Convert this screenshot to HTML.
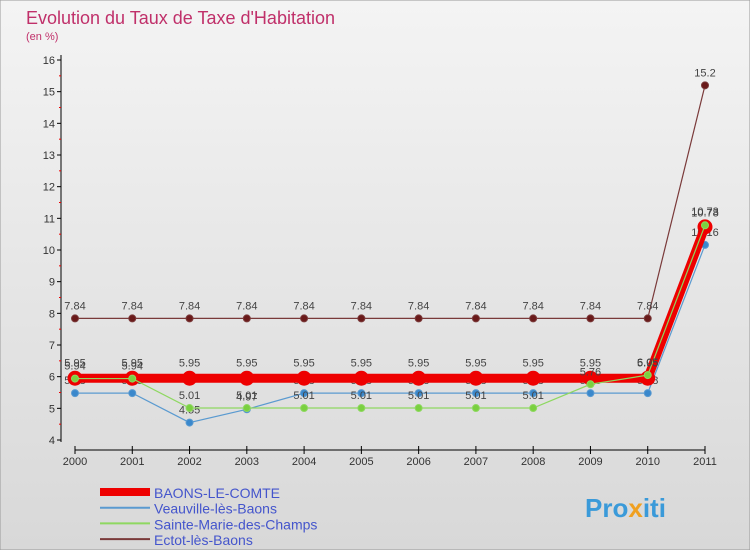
<!DOCTYPE html>
<html><head><meta charset="utf-8"><style>
body{margin:0;width:750px;height:550px;overflow:hidden;font-family:"Liberation Sans",sans-serif}
svg text{font-family:"Liberation Sans",sans-serif}
</style></head><body>
<svg width="750" height="550" xmlns="http://www.w3.org/2000/svg">
<defs><linearGradient id="bg" x1="0" y1="0" x2="0" y2="1"><stop offset="0" stop-color="#f4f4f4"/><stop offset="1" stop-color="#d8d8d8"/></linearGradient></defs>
<rect width="750" height="550" fill="url(#bg)" stroke="#999"/>
<text x="26" y="24" font-size="18" fill="#c0306a">Evolution du Taux de Taxe d'Habitation</text>
<text x="26" y="40" font-size="11" fill="#c0306a">(en %)</text>
<g id="axes"></g><g id="series"></g><g id="legend"></g>
<text x="585" y="517" font-size="26" font-weight="bold" fill="#3a9ad9">Pro<tspan fill="#f0a020">x</tspan>iti</text>
</svg>
<script>
const years=[2000,2001,2002,2003,2004,2005,2006,2007,2008,2009,2010,2011];
const yTicks=[4,5,6,7,8,9,10,11,12,13,14,15,16];
const baons=[5.95,5.95,5.95,5.95,5.95,5.95,5.95,5.95,5.95,5.95,5.95,10.73];
const veau=[5.48,5.48,4.55,4.97,5.48,5.48,5.48,5.48,5.48,5.48,5.48,10.16];
const sainte=[5.94,5.94,5.01,5.01,5.01,5.01,5.01,5.01,5.01,5.76,6.05,10.78];
const ectot=[7.84,7.84,7.84,7.84,7.84,7.84,7.84,7.84,7.84,7.84,7.84,15.2];
const NS="http://www.w3.org/2000/svg";
const X=i=>75+i*(630/11);
const Y=v=>440-(v-4)*(380/12);
function mk(t,a,p){const e=document.createElementNS(NS,t);for(const k in a)e.setAttribute(k,a[k]);p.appendChild(e);return e;}
const ax=document.getElementById('axes');
let l=mk('line',{x1:61,y1:55,x2:61,y2:442,stroke:'#000'},ax);


l=mk('line',{x1:75,y1:450,x2:705,y2:450,stroke:'#000'},ax);


yTicks.forEach(v=>{
 mk('line',{x1:57,y1:Y(v),x2:61,y2:Y(v),stroke:'#000'},ax);
 if(v<16)mk('line',{x1:59,y1:Y(v+0.5),x2:61,y2:Y(v+0.5),stroke:'#e00'},ax);
 const t=mk('text',{x:55,y:Y(v)+4,'font-size':11,'text-anchor':'end',fill:'#333'},ax);t.textContent=v;
 
 
});
years.forEach((y,i)=>{
 mk('line',{x1:X(i),y1:446,x2:X(i),y2:454,stroke:'#000'},ax);
 const t=mk('text',{x:X(i),y:465,'font-size':11,'text-anchor':'middle',fill:'#333'},ax);t.textContent=y;
 
 
});
const sg=document.getElementById('series');
function series(data,color,w,r,fill,name,dy){
 const g=mk('g',{},sg);
 
 
 mk('polyline',{points:data.map((v,i)=>X(i)+','+Y(v)).join(' '),fill:'none',stroke:color,'stroke-width':w},g);
 data.forEach((v,i)=>{
  const c=mk('circle',{cx:X(i),cy:Y(v),r:r,fill:fill,stroke:color},g);
  
  
  const t=mk('text',{x:X(i),y:Y(v)+dy,'font-size':11,'text-anchor':'middle',fill:'#444'},g);t.textContent=v;
 });
}
series(ectot,'#7a3a3a',1.2,3.5,'#6a1a1a','ectot-series',-9);
series(veau,'#5a9ad0',1.2,3.5,'#3a88cc','veauville-series',-9);
series(baons,'#e00',9,7,'#e00','baons-series',-12);
series(sainte,'#8ed860',1.2,3.5,'#7ad040','sainte-marie-series',-9);
const lg=document.getElementById('legend');
[['BAONS-LE-COMTE','#e00',8],['Veauville-lès-Baons','#5a9ad0',2],['Sainte-Marie-des-Champs','#8ed860',2],['Ectot-lès-Baons','#7a3a3a',2]].forEach((d,i)=>{
 const y=492+i*15.7;
 const g=mk('g',{},lg);
 
 
 mk('line',{x1:100,y1:y,x2:150,y2:y,stroke:d[1],'stroke-width':d[2]},g);
 const t=mk('text',{x:154,y:y+6,'font-size':14,fill:'#4455cc'},g);t.textContent=d[0];
});
</script>
</body></html>
